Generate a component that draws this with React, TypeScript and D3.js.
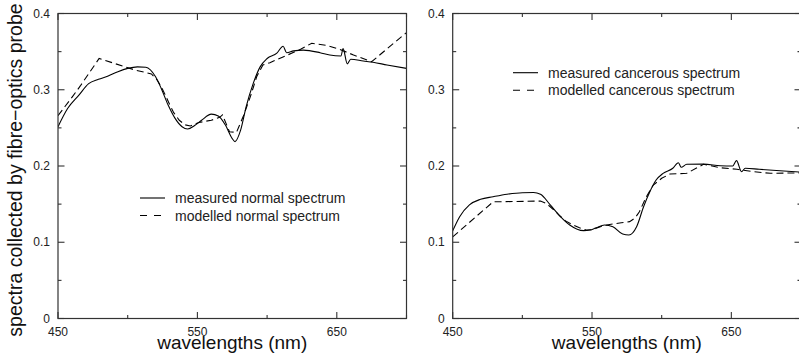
import React from "react";
import * as d3 from "d3";

// ---------- data ----------
const normalMeasuredWl = [450, 457, 465, 472, 479, 486, 493, 500, 507, 513, 520, 524, 529, 534, 539, 543, 548, 553, 560, 565, 570, 575, 577, 581, 585, 590, 595, 600, 607, 611.5, 614, 619, 626, 638, 645, 653, 654.5, 657.5, 660, 669, 676, 686, 700];
const normalMeasuredVal = [0.2515, 0.2757, 0.293, 0.308, 0.3137, 0.318, 0.3237, 0.328, 0.33, 0.3295, 0.317, 0.302, 0.28, 0.2625, 0.2515, 0.2485, 0.253, 0.26, 0.268, 0.2656, 0.254, 0.236, 0.232, 0.247, 0.278, 0.308, 0.33, 0.341, 0.348, 0.357, 0.3486, 0.351, 0.352, 0.3486, 0.3455, 0.3443, 0.354, 0.334, 0.34, 0.3377, 0.336, 0.3325, 0.328];

const normalModelWl = [450, 455, 460, 466, 479.5, 505, 517, 521, 524, 527, 530, 533, 537, 541, 545, 551, 560, 566, 568, 573, 578, 583, 588, 592.5, 597, 602, 624, 632, 643, 652, 662, 675, 700];
const normalModelVal = [0.266, 0.278, 0.29, 0.305, 0.341, 0.326, 0.3207, 0.313, 0.304, 0.293, 0.281, 0.27, 0.26, 0.254, 0.2525, 0.257, 0.26, 0.2638, 0.267, 0.245, 0.244, 0.2656, 0.291, 0.317, 0.3325, 0.3355, 0.353, 0.361, 0.358, 0.353, 0.3456, 0.3368, 0.375];

const cancerMeasuredWl = [450, 455, 462, 470, 479, 489, 500, 508, 513, 520, 527, 534, 544, 548.5, 553, 559, 565, 572, 576.5, 582, 587, 591.5, 596, 601, 608, 612, 614, 618, 630, 642, 651, 653.7, 657.3, 660, 670, 685, 700];
const cancerMeasuredVal = [0.115, 0.1335, 0.149, 0.1563, 0.1597, 0.163, 0.165, 0.1652, 0.163, 0.149, 0.1344, 0.1226, 0.1152, 0.116, 0.119, 0.1226, 0.1204, 0.1108, 0.1095, 0.1204, 0.1466, 0.1663, 0.1816, 0.1904, 0.197, 0.2043, 0.1983, 0.2022, 0.2024, 0.2004, 0.2, 0.207, 0.1925, 0.197, 0.1957, 0.1938, 0.192];

const cancerModelWl = [450, 479, 513, 517, 520, 524, 527, 531, 536.5, 541, 546, 550, 553, 557, 560.5, 565, 571, 577, 581, 584, 589, 594, 600, 606, 618, 630, 642, 654, 666, 678, 700];
const cancerModelVal = [0.107, 0.153, 0.154, 0.151, 0.1466, 0.14, 0.1344, 0.128, 0.1226, 0.119, 0.116, 0.1165, 0.1183, 0.121, 0.1226, 0.124, 0.1255, 0.127, 0.132, 0.14, 0.1597, 0.175, 0.1839, 0.1895, 0.1904, 0.2022, 0.1978, 0.1957, 0.1925, 0.1904, 0.191];

const xMajorTicks = [450, 550, 650];
const xMinorTicks = [500, 600, 700];
const yMajorTicks = [0, 0.1, 0.2, 0.3, 0.4];
const yTickLabels = ["0", "0.1", "0.2", "0.3", "0.4"];
const yMinorTicks = [0.05, 0.15, 0.25, 0.35];

const normalLegend = ["measured normal spectrum", "modelled normal spectrum"];
const cancerLegend = ["measured cancerous spectrum", "modelled cancerous spectrum"];

const FONT = "'Liberation Sans', Arial, Helvetica, sans-serif";
const AXIS = "#333";

type PanelProps = {
  id: string;
  left: number;
  right: number;
  measuredWl: number[];
  measuredVal: number[];
  modelWl: number[];
  modelVal: number[];
  legend: string[];
  legendX: number;
  legendY: number;
};

function Panel(p: PanelProps) {
  const x = d3.scaleLinear().domain([450, 700]).range([p.left, p.right]);
  const y = d3.scaleLinear().domain([0, 0.4]).range([318.5, 13.5]);
  const top = y(0.4);
  const bottom = y(0);
  const solid = d3
    .line<number>()
    .x((_, i) => x(p.measuredWl[i]))
    .y((v) => y(v))
    .curve(d3.curveMonotoneX)(p.measuredVal) as string;
  const dashed = d3
    .line<number>()
    .x((_, i) => x(p.modelWl[i]))
    .y((v) => y(v))
    .curve(d3.curveLinear)(p.modelVal) as string;
  const maj = 6.5;
  const min = 3.5;
  return (
    <g>
      <defs>
        <clipPath id={p.id}>
          <rect x={p.left} y={top} width={p.right - p.left} height={bottom - top} />
        </clipPath>
      </defs>
      <g clipPath={`url(#${p.id})`} fill="none" stroke="#000" strokeWidth={1.1}>
        <path d={solid} />
        <path d={dashed} strokeDasharray="7,4" />
      </g>
      <rect x={p.left} y={top} width={p.right - p.left} height={bottom - top} fill="none" stroke={AXIS} strokeWidth={1.2} />
      <g stroke={AXIS} strokeWidth={1.1}>
        {xMajorTicks.map((t) => (
          <g key={"xM" + t}>
            <line x1={x(t)} x2={x(t)} y1={bottom} y2={bottom - maj} />
            <line x1={x(t)} x2={x(t)} y1={top} y2={top + maj} />
          </g>
        ))}
        {xMinorTicks.map((t) => (
          <g key={"xm" + t}>
            <line x1={x(t)} x2={x(t)} y1={bottom} y2={bottom - min} />
            <line x1={x(t)} x2={x(t)} y1={top} y2={top + min} />
          </g>
        ))}
        {yMajorTicks.map((t) => (
          <g key={"yM" + t}>
            <line x1={p.left} x2={p.left + maj} y1={y(t)} y2={y(t)} />
            <line x1={p.right} x2={p.right - maj} y1={y(t)} y2={y(t)} />
          </g>
        ))}
        {yMinorTicks.map((t) => (
          <g key={"ym" + t}>
            <line x1={p.left} x2={p.left + min} y1={y(t)} y2={y(t)} />
            <line x1={p.right} x2={p.right - min} y1={y(t)} y2={y(t)} />
          </g>
        ))}
      </g>
      <g fontFamily={FONT} fontSize={12} fill="#222">
        {xMajorTicks.map((t) => (
          <text key={"xl" + t} x={x(t)} y={336} textAnchor="middle">
            {String(t)}
          </text>
        ))}
        {yMajorTicks.map((t, i) => (
          <text key={"yl" + t} x={p.left - 8} y={y(t) + 4.2} textAnchor="end">
            {yTickLabels[i]}
          </text>
        ))}
      </g>
      <text x={(p.left + p.right) / 2} y={349} textAnchor="middle" fontFamily={FONT} fontSize={19} fill="#111">
        wavelengths (nm)
      </text>
      <g fontFamily={FONT} fontSize={14} fill="#222">
        <line x1={p.legendX} x2={p.legendX + 25} y1={p.legendY} y2={p.legendY} stroke="#000" strokeWidth={1.1} />
        <text x={p.legendX + 35} y={p.legendY + 5}>{p.legend[0]}</text>
        <line x1={p.legendX} x2={p.legendX + 22} y1={p.legendY + 17.5} y2={p.legendY + 17.5} stroke="#000" strokeWidth={1.1} strokeDasharray="7,7" />
        <text x={p.legendX + 35} y={p.legendY + 22.5}>{p.legend[1]}</text>
      </g>
    </g>
  );
}

export default function App() {
  return (
    <svg
      width={799}
      height={360}
      style={{ position: "absolute", left: 0, top: 0, background: "#fff" }}
    >
      <rect x={0} y={0} width={799} height={360} fill="#fff" />
      <Panel
        id="clipL"
        left={58}
        right={406.5}
        measuredWl={normalMeasuredWl}
        measuredVal={normalMeasuredVal}
        modelWl={normalModelWl}
        modelVal={normalModelVal}
        legend={normalLegend}
        legendX={140}
        legendY={198}
      />
      <Panel
        id="clipR"
        left={452.7}
        right={801}
        measuredWl={cancerMeasuredWl}
        measuredVal={cancerMeasuredVal}
        modelWl={cancerModelWl}
        modelVal={cancerModelVal}
        legend={cancerLegend}
        legendX={513}
        legendY={72.7}
      />
      <text
        transform="translate(22,170) rotate(-90)"
        textAnchor="middle"
        fontFamily={FONT}
        fontSize={19.5}
        fill="#111"
      >
        spectra collected by fibre−optics probe
      </text>
    </svg>
  );
}
